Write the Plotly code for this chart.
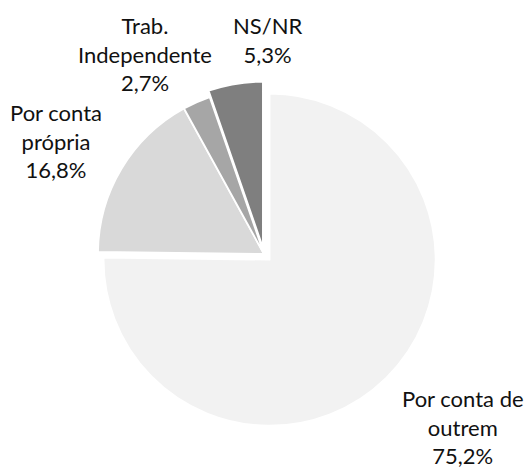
import plotly.graph_objects as go

categories = ["Por conta de outrem", "Por conta própria", "Trab. Independente", "NS/NR"]
label_lines = ["Por conta de<br>outrem", "Por conta<br>própria", "Trab.<br>Independente", "NS/NR"]
values = [75.2, 16.8, 2.7, 5.3]
colors = ["#f2f2f2", "#d9d9d9", "#a6a6a6", "#7f7f7f"]
pulls = [0.048, 0.0, 0.0, 0.039]

# label anchor positions (paper coords) for the outside data labels
label_pos = [(463 / 529, 1 - 427 / 471), (56 / 529, 1 - 141 / 471),
             (144.5 / 529, 1 - 54 / 471), (267 / 529, 1 - 40 / 471)]

W, H = 529, 471
fig = go.Figure()
fig.add_trace(go.Pie(
    labels=categories,
    values=values,
    sort=False,
    direction="clockwise",
    rotation=0,
    pull=pulls,
    marker=dict(colors=colors, line=dict(color="white", width=1.8)),
    textinfo="none",
    showlegend=False,
    domain=dict(x=[(264 - 174) / W, (264 + 174) / W],
                y=[(217 - 174) / H, (217 + 174) / H]),
))

for lab, v, (px, py) in zip(label_lines, values, label_pos):
    txt = lab + "<br>" + f"{v:.1f}".replace(".", ",") + "%"
    fig.add_annotation(x=px, y=py, xref="paper", yref="paper", text=txt,
                       showarrow=False, xanchor="center", yanchor="middle",
                       align="center", font=dict(family="Lato", size=22, color="#111111"))

fig.update_layout(width=W, height=H, margin=dict(l=0, r=0, t=0, b=0),
                  paper_bgcolor="white", plot_bgcolor="white")
fig.write_html("out.html", config={"displayModeBar": False},
               post_script="document.body.style.margin='0';document.body.style.overflow='hidden';")
